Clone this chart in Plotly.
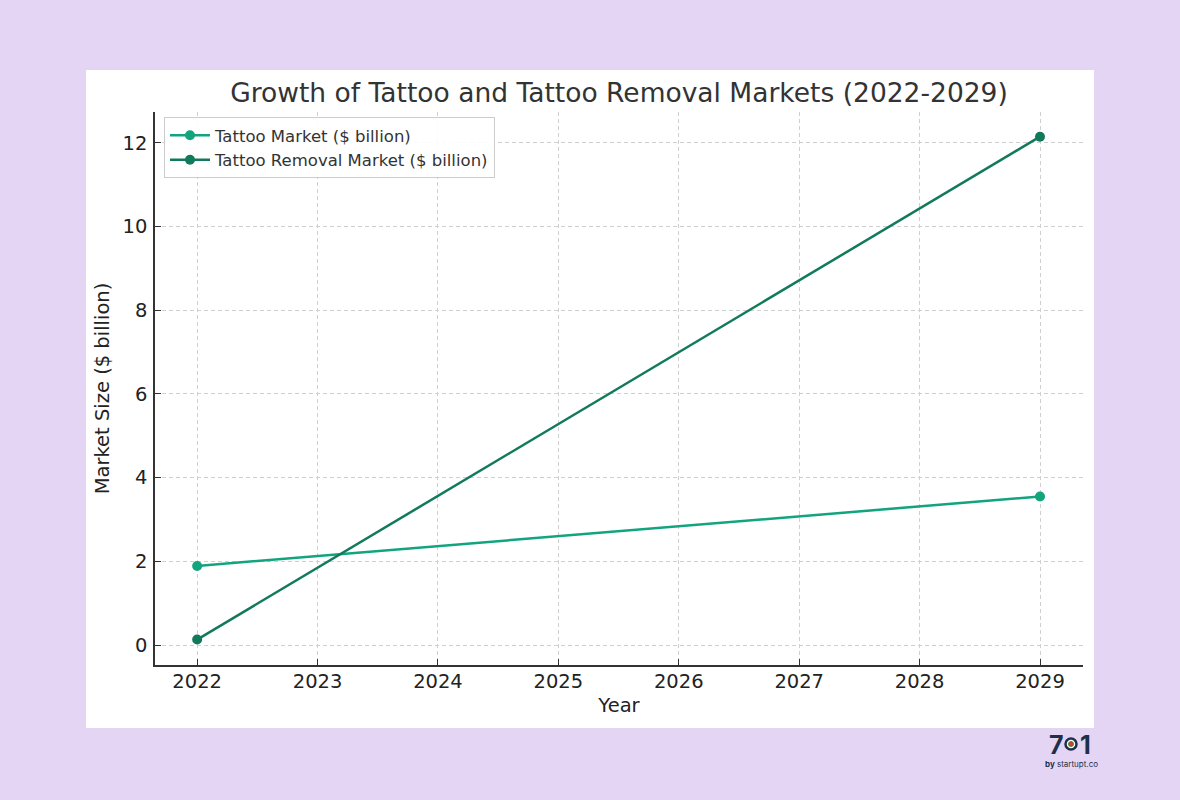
import plotly.graph_objects as go

years = [2022, 2029]
tattoo_market = [1.89, 3.55]
removal_market = [0.13, 12.15]
x_ticks = [2022, 2023, 2024, 2025, 2026, 2027, 2028, 2029]
y_ticks = [0, 2, 4, 6, 8, 10, 12]

FONT = "DejaVu Sans"
L, R, T, B = 155, 97, 112, 135
PW, PH = 1180 - L - R, 800 - T - B

fig = go.Figure()
fig.add_trace(go.Scatter(x=years, y=tattoo_market, mode="lines+markers",
                         name="Tattoo Market ($ billion)",
                         line=dict(color="#12a47e", width=2.5),
                         marker=dict(color="#12a47e", size=10)))
fig.add_trace(go.Scatter(x=years, y=removal_market, mode="lines+markers",
                         name="Tattoo Removal Market ($ billion)",
                         line=dict(color="#127a5c", width=2.5),
                         marker=dict(color="#127a5c", size=10)))

def px(xp):
    return (xp - L) / PW
def py(yp):
    return (800 - B - yp) / PH

fig.add_shape(type="rect", xref="paper", yref="paper",
              x0=px(86), x1=px(1094), y0=py(728), y1=py(70),
              fillcolor="white", line=dict(width=0), layer="below")

# logo
fig.add_annotation(xref="paper", yref="paper", x=px(1056), y=py(745),
                   xanchor="center", yanchor="middle",
                   text="<b>7</b>", showarrow=False,
                   font=dict(family="Inter", size=25, color="#1e2f4a"))
fig.add_annotation(xref="paper", yref="paper", x=px(1085), y=py(745),
                   xanchor="center", yanchor="middle",
                   text="<b>1</b>", showarrow=False,
                   font=dict(family="Inter", size=25, color="#1e2f4a"))
fig.add_shape(type="circle", xref="paper", yref="paper",
              x0=px(1065.5), x1=px(1076.5), y0=py(749.5), y1=py(738.5),
              fillcolor="white", line=dict(color="#1e2f4a", width=2.5))
fig.add_shape(type="circle", xref="paper", yref="paper",
              x0=px(1068.5), x1=px(1073.5), y0=py(746.5), y1=py(741.5),
              fillcolor="#d0402b", line=dict(color="#4a8a3a", width=1))
fig.add_annotation(xref="paper", yref="paper", x=px(1071), y=py(764),
                   xanchor="center", yanchor="middle",
                   text="<b>by</b> startupt.co", showarrow=False,
                   font=dict(family="Inter", size=8, color="#1e2f4a"))

fig.update_layout(
    width=1180, height=800,
    paper_bgcolor="#e5d5f5", plot_bgcolor="white",
    margin=dict(l=L, r=R, t=T, b=B, autoexpand=False),
    font=dict(family=FONT, color="#222222"),
    title=dict(text="Growth of Tattoo and Tattoo Removal Markets (2022-2029)",
               x=619 / 1180, xanchor="center", y=1 - 93 / 800, yanchor="middle",
               font=dict(family=FONT, size=26.5, color="#333333")),
    showlegend=True,
    legend=dict(x=px(164), y=py(117), xanchor="left", yanchor="top",
                bgcolor="rgba(255,255,255,0.9)", bordercolor="#cccccc", borderwidth=1,
                font=dict(family=FONT, size=16.5, color="#333333"),
                itemwidth=40, tracegroupgap=0),
    xaxis=dict(range=[2021.65, 2029.357], tickvals=x_ticks,
               ticktext=[str(v) for v in x_ticks],
               showgrid=True, gridcolor="#d0d0d0", griddash="4px,3px", gridwidth=1,
               showline=True, linecolor="#333333", linewidth=1.5,
               ticks="inside", ticklen=6, tickcolor="#333333", tickwidth=1.2,
               tickfont=dict(size=19.5, color="#222222"), zeroline=False,
               ticklabelstandoff=-2,
               title=dict(text="Year", font=dict(size=19.5, color="#222222"), standoff=6)),
    yaxis=dict(range=[-0.478, 12.74], tickvals=y_ticks,
               showgrid=True, gridcolor="#d0d0d0", griddash="4px,3px", gridwidth=1,
               showline=True, linecolor="#333333", linewidth=1.5,
               ticks="inside", ticklen=6, tickcolor="#333333", tickwidth=1.2,
               tickfont=dict(size=19.5, color="#222222"), zeroline=False,
               ticklabelstandoff=2,
               title=dict(text="Market Size ($ billion)", font=dict(size=19.5, color="#222222"), standoff=8)),
)

fig.write_html("out.html")
